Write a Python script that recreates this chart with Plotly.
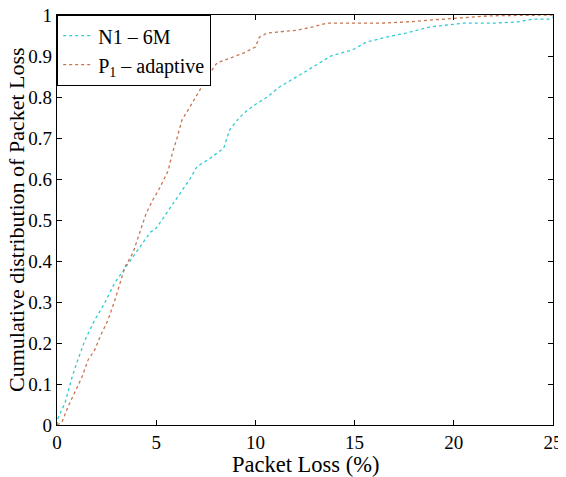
import plotly.graph_objects as go

n1_x = [0, 0.05, 0.4, 0.76, 1.06, 1.41, 1.9, 2.4, 2.9, 3.6, 4.1, 4.7, 5.0, 5.7, 6.7, 7.05, 7.7, 8.4, 8.7, 9.2, 9.6, 10.1, 10.6, 11.2, 12.1, 12.9, 13.8, 14.9, 15.6, 16.5, 17.6, 18.8, 20.5, 22.0, 23.2, 24.0, 24.8, 25.0]
n1_y = [0, 0.017, 0.053, 0.117, 0.16, 0.207, 0.256, 0.297, 0.346, 0.395, 0.43, 0.47, 0.48, 0.53, 0.6, 0.63, 0.65, 0.675, 0.72, 0.75, 0.768, 0.785, 0.8, 0.824, 0.849, 0.873, 0.9, 0.915, 0.934, 0.945, 0.956, 0.971, 0.98, 0.98, 0.983, 0.99, 0.99, 0.995]

p1_x = [0, 0.25, 0.55, 0.9, 1.26, 1.56, 1.9, 2.17, 2.57, 2.92, 3.18, 3.43, 3.83, 4.18, 4.5, 4.84, 5.2, 5.6, 5.8, 6.05, 6.3, 6.7, 7.2, 7.7, 8.06, 8.7, 9.4, 10.0, 10.2, 10.6, 11.2, 12.1, 12.9, 13.6, 16.3, 17.6, 19.5, 21.8, 25.0]
p1_y = [0, 0.007, 0.044, 0.078, 0.117, 0.158, 0.183, 0.215, 0.256, 0.305, 0.346, 0.386, 0.42, 0.47, 0.517, 0.55, 0.58, 0.62, 0.66, 0.70, 0.744, 0.776, 0.817, 0.858, 0.883, 0.895, 0.907, 0.922, 0.946, 0.956, 0.959, 0.963, 0.971, 0.98, 0.98, 0.983, 0.99, 0.998, 1.0]

x_ticks = [0, 5, 10, 15, 20, 25]
y_ticks = [0, 0.1, 0.2, 0.3, 0.4, 0.5, 0.6, 0.7, 0.8, 0.9, 1]
y_tick_text = ["0", "0.1", "0.2", "0.3", "0.4", "0.5", "0.6", "0.7", "0.8", "0.9", "1"]

x_title = "Packet Loss (%)"
y_title = "Cumulative distribution of Packet Loss"

font = "Liberation Serif, DejaVu Serif, serif"

fig = go.Figure()
fig.add_trace(go.Scatter(x=n1_x, y=n1_y, mode="lines", name="N1 – 6M",
                         line=dict(color="#30CCD4", width=1.3, dash="dot")))
fig.add_trace(go.Scatter(x=p1_x, y=p1_y, mode="lines", name="P<sub>1</sub> – adaptive",
                         line=dict(color="#C87450", width=1.3, dash="dot")))

axis_common = dict(showline=True, linecolor="black", linewidth=1.2, mirror="ticks",
                   ticks="inside", ticklen=5, tickcolor="black", showgrid=False,
                   zeroline=False, automargin=False, ticklabeloverflow="allow",
                   tickfont=dict(family=font, size=19, color="black"))

fig.update_layout(
    width=558, height=469,
    margin=dict(l=49, r=13, t=7, b=52),
    paper_bgcolor="white", plot_bgcolor="white",
    font=dict(family=font, color="black"),
    xaxis=dict(range=[0, 25], tickvals=x_ticks, ticktext=[str(v) for v in x_ticks],
               ticklabelstandoff=0, **axis_common),
    yaxis=dict(range=[0, 1], tickvals=y_ticks, ticktext=y_tick_text,
               ticklabelstandoff=0, **axis_common),
    legend=dict(x=0, y=1, xanchor="left", yanchor="top", bgcolor="white",
                bordercolor="black", borderwidth=1.2,
                font=dict(family=font, size=20, color="black"),
                tracegroupgap=0, itemwidth=30),
    showlegend=True,
    annotations=[
        dict(text=x_title, xref="paper", yref="paper", x=0.5, y=0,
             xanchor="center", yanchor="middle", yshift=-39, showarrow=False,
             font=dict(family=font, size=22.5, color="black")),
        dict(text=y_title, xref="paper", yref="paper", x=0, y=0.5,
             xanchor="center", yanchor="middle", xshift=-41, textangle=-90,
             showarrow=False, font=dict(family=font, size=22, color="black")),
    ],
)

fig.write_html("out.html")
